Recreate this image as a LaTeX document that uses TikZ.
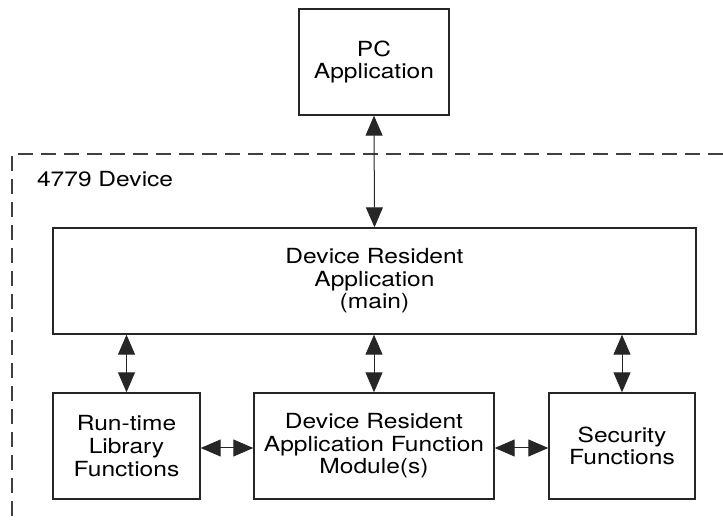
\documentclass[tikz,border=0pt]{standalone}
\usepackage{fontspec}
\setmainfont{TeX Gyre Heros}[FakeStretch=1.18]
\usetikzlibrary{arrows.meta}

\begin{document}
\begin{tikzpicture}[x=0.5pt, y=-0.5pt,
  every node/.style={font=\fontsize{10.4}{11.3}\selectfont, align=center},
  block/.style={draw=black!85, line width=0.7pt, inner sep=0pt},
  dblarrow/.style={{Triangle[length=10pt,width=8.5pt]}-{Triangle[length=10pt,width=8.5pt]}, line width=0.5pt, black!85}]
\useasboundingbox (0,0) rectangle (723,523);
% device border (runs off the page)
\draw[black!75, line width=1pt, dash pattern=on 7.5pt off 4pt] (723,154) -- (11.7,154) -- (11.7,523);
\node[anchor=base west] (devlabel) at (30,187) {4779 Device};
% blocks
\node[block, minimum width=75pt, minimum height=53pt] (pcapp) at (374,62) {PC\\Application};
\node[block, minimum width=321.5pt, minimum height=53pt] (drapp) at (374.5,281) {Device Resident\\Application\\(main)};
\node[block, minimum width=73.5pt, minimum height=53pt] (rtlib) at (126.5,446) {Run-time\\Library\\Functions};
\node[block, minimum width=120pt, minimum height=53pt] (drafm) at (374,446) {Device Resident\\Application Function\\Module(s)};
\node[block, minimum width=73pt, minimum height=53pt] (secfn) at (622,446) {Security\\Functions};
% links
\draw[dblarrow] (pcapp.south) -- (drapp.north);
\foreach \n in {rtlib,drafm,secfn}
  \draw[dblarrow] (\n.north |- drapp.south) -- (\n.north);
\draw[dblarrow] ([yshift=-1pt]rtlib.east) -- ([yshift=-1pt]drafm.west);
\draw[dblarrow] ([yshift=-1pt]drafm.east) -- ([yshift=-1pt]secfn.west);
\end{tikzpicture}
\end{document}
